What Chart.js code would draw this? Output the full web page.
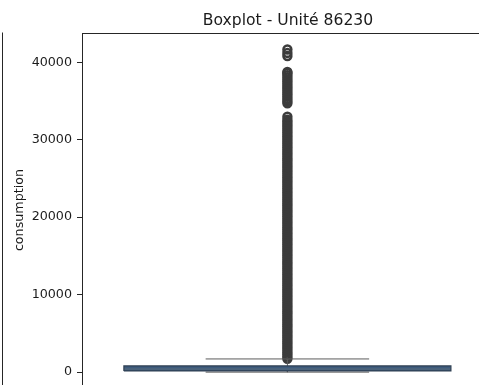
<!DOCTYPE html>
<html>
<head>
<meta charset="utf-8">
<script src="https://cdn.jsdelivr.net/npm/chart.js@4/dist/chart.umd.min.js"></script>
<style>
  html, body { margin: 0; padding: 0; background: #fff; width: 479px; height: 385px; overflow: hidden; }
  #wrap { position: absolute; left: 0; top: 0; width: 576px; height: 400px; }
</style>
</head>
<body>
<div id="wrap"><canvas id="boxChart" width="576" height="400"></canvas></div>
<script>
// Boxplot - Unité 86230 (consumption)
const unitName = "Unité 86230";
const quartiles = [150, 400, 800];      // q1, median, q3
const whiskers = [0, 1700];             // lower, upper
const yTicks = [0, 10000, 20000, 30000, 40000];

// outliers (dense column + a few isolated points at the top)
const fliers = [
  1720, 1990, 2270, 2540, 2830, 3100, 3380, 3660, 3930, 4210,
  4500, 4770, 5050, 5320, 5610, 5890, 6160, 6440, 6720, 7000,
  7270, 7560, 7830, 8110, 8390, 8670, 8940, 9230, 9500, 9780,
  10060, 10340, 10620, 10890, 11170, 11450, 11730, 12010, 12290, 12560,
  12840, 13120, 13400, 13680, 13960, 14230, 14510, 14790, 15070, 15350,
  15620, 15900, 16180, 16460, 16740, 17020, 17290, 17570, 17850, 18130,
  18410, 18680, 18960, 19240, 19520, 19800, 20080, 20350, 20630, 20910,
  21190, 21470, 21740, 22020, 22300, 22580, 22860, 23140, 23410, 23690,
  23970, 24250, 24530, 24800, 25080, 25360, 25640, 25920, 26190, 26470,
  26750, 27030, 27310, 27580, 27860, 28140, 28420, 28700, 28980, 29250,
  29530, 29810, 30090, 30370, 30640, 30920, 31200, 31480, 31760, 32030,
  32310, 32590, 32970,
  34700, 34980, 35260, 35540, 35820, 36100, 36380, 36660, 36940, 37220,
  37500, 37780, 38060, 38340, 38620, 38750,
  40800, 41200, 41650
];

const BOX_HALF = 0.4;   // seaborn default width 0.8
const CAP_HALF = 0.2;
const FONT = "'DejaVu Sans', sans-serif";

const [q1, med, q3] = quartiles;
const [wLo, wHi] = whiskers;

// spines + the edge of the neighbouring subplot
const framePlugin = {
  id: "frame",
  afterDraw(chart) {
    const { ctx, chartArea: a } = chart;
    ctx.save();
    ctx.strokeStyle = "#262626";
    ctx.lineWidth = 1;
    ctx.strokeRect(Math.round(a.left) - 0.5, Math.round(a.top) + 0.5, Math.round(a.right - a.left), Math.round(a.bottom - a.top));
    ctx.beginPath();
    ctx.moveTo(2.5, Math.round(a.top) - 0.5);
    ctx.lineTo(2.5, chart.height);
    ctx.stroke();
    ctx.restore();
  }
};

const ctx = document.getElementById("boxChart").getContext("2d");
new Chart(ctx, {
  type: "line",
  data: {
    datasets: [
      {
        label: "box outline",
        data: [
          { x: -BOX_HALF, y: q1 }, { x: BOX_HALF, y: q1 },
          { x: BOX_HALF, y: q3 }, { x: -BOX_HALF, y: q3 }, { x: -BOX_HALF, y: q1 }
        ],
        borderColor: "#2e3f52",
        borderWidth: 1.2,
        pointRadius: 0,
        fill: false
      },
      {
        label: "median",
        data: [{ x: -BOX_HALF, y: med }, { x: BOX_HALF, y: med }],
        borderColor: "#5a6a7a",
        borderWidth: 1,
        pointRadius: 0,
        fill: false
      },
      {
        label: "box top",
        data: [{ x: -BOX_HALF, y: q3 }, { x: BOX_HALF, y: q3 }],
        borderWidth: 0,
        pointRadius: 0,
        backgroundColor: "#3d5b7c",
        fill: "+1"
      },
      {
        label: "box bottom",
        data: [{ x: -BOX_HALF, y: q1 }, { x: BOX_HALF, y: q1 }],
        borderWidth: 0,
        pointRadius: 0,
        fill: false
      },
      {
        label: "whiskers",
        data: [
          { x: 0, y: q3 }, { x: 0, y: wHi }, { x: 0, y: null },
          { x: -CAP_HALF, y: wHi }, { x: CAP_HALF, y: wHi }, { x: 0, y: null },
          { x: 0, y: q1 }, { x: 0, y: wLo }, { x: 0, y: null },
          { x: -CAP_HALF, y: wLo }, { x: CAP_HALF, y: wLo }
        ],
        borderColor: "#5b5b5b",
        borderWidth: 1,
        pointRadius: 0,
        spanGaps: false,
        fill: false
      },
      {
        label: "outliers",
        data: fliers.map(v => ({ x: 0, y: v })),
        showLine: false,
        pointStyle: "circle",
        pointRadius: 3.9,
        pointBorderWidth: 2.6,
        pointBackgroundColor: "rgba(0,0,0,0)",
        pointBorderColor: "#3c3c3c",
        fill: false
      }
    ]
  },
  options: {
    responsive: false,
    animation: false,
    devicePixelRatio: 1,
    layout: { autoPadding: false, padding: { left: 0, top: 0, right: 0, bottom: 12 } },
    plugins: {
      legend: { display: false },
      tooltip: { enabled: false },
      title: {
        display: true,
        text: "Boxplot - " + unitName,
        color: "#1a1a1a",
        font: { family: FONT, size: 15.6, weight: "normal" },
        padding: { top: 12, bottom: 2 }
      }
    },
    scales: {
      x: {
        type: "linear",
        min: -0.5,
        max: 0.706,   // right spine lies beyond the cropped picture
        display: false
      },
      y: {
        type: "linear",
        min: -1970,
        max: 43810,
        afterFit(scale) { scale.width = 83; },
        afterBuildTicks(scale) { scale.ticks = yTicks.map(v => ({ value: v })); },
        border: { display: false },
        grid: { drawOnChartArea: false, drawTicks: true, tickLength: 6, tickColor: "#262626", tickWidth: 1 },
        ticks: {
          color: "#1a1a1a",
          padding: 5,
          font: { family: FONT, size: 12.7 },
          callback: v => String(v)
        },
        title: {
          display: true,
          text: "consumption",
          color: "#1a1a1a",
          font: { family: FONT, size: 12.7 },
          padding: { top: 12, bottom: 0 }
        }
      }
    }
  },
  plugins: [framePlugin]
});
</script>
</body>
</html>
